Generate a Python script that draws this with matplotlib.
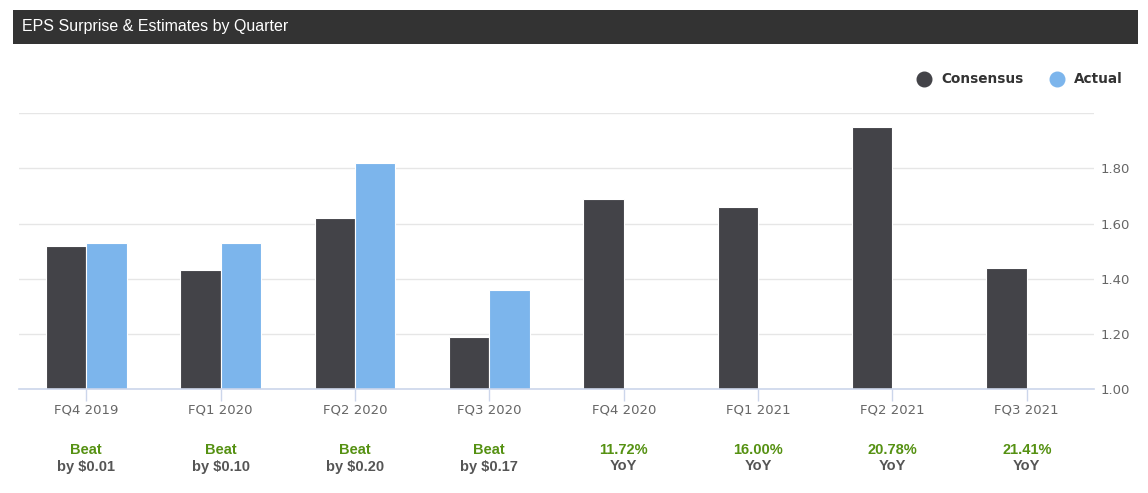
import matplotlib.pyplot as plt
import numpy as np
from matplotlib.lines import Line2D
from matplotlib.patches import Rectangle
from matplotlib.transforms import blended_transform_factory

quarters = ['FQ4 2019', 'FQ1 2020', 'FQ2 2020', 'FQ3 2020',
            'FQ4 2020', 'FQ1 2021', 'FQ2 2021', 'FQ3 2021']
consensus = [1.52, 1.43, 1.62, 1.19, 1.69, 1.66, 1.95, 1.44]
actual = [1.53, 1.53, 1.82, 1.36]  # reported quarters only
note_top = ['Beat', 'Beat', 'Beat', 'Beat', '11.72%', '16.00%', '20.78%', '21.41%']
note_bottom = ['by $0.01', 'by $0.10', 'by $0.20', 'by $0.17', 'YoY', 'YoY', 'YoY', 'YoY']
y_ticks = [1.0, 1.2, 1.4, 1.6, 1.8, 2.0]

CONS_COLOR = '#434348'
ACT_COLOR = '#7cb5ec'
AXIS_COLOR = '#ccd6eb'
GRID_COLOR = '#e6e6e6'
LABEL_COLOR = '#666666'
GREEN = '#559112'

W, H = 1148, 493
fig = plt.figure(figsize=(W / 100, H / 100), dpi=100)
fig.patch.set_facecolor('white')

# header bar
fig.add_artist(Rectangle((13 / W, 1 - 43.7 / H), (1138 - 13) / W, 33.7 / H,
                         transform=fig.transFigure, facecolor='#333333', edgecolor='none'))
fig.text(22 / W, 1 - 27 / H, 'EPS Surprise & Estimates by Quarter', color='white',
         fontsize=11.5, family='Liberation Sans', va='center', ha='left')

ax = fig.add_axes([19 / W, 1 - 389 / H, (1094 - 19) / W, (389 - 113.3) / H])

x = np.arange(len(quarters))
bw = 0.3
ax.bar(x - bw / 2, consensus, bw, bottom=0, color=CONS_COLOR, edgecolor='white',
       linewidth=0.8, zorder=3)
ax.bar(x[:len(actual)] + bw / 2, actual, bw, color=ACT_COLOR, edgecolor='white',
       linewidth=0.8, zorder=3)

ax.set_xlim(-0.5, len(quarters) - 0.5)
ax.set_ylim(1.0, 2.0)

ax.set_xticks(x)
ax.set_xticklabels(quarters, color=LABEL_COLOR, fontsize=9.5, family='DejaVu Sans')
ax.tick_params(axis='x', direction='out', length=8.5, width=1, color=AXIS_COLOR, pad=2)

ax.yaxis.tick_right()
ax.set_yticks(y_ticks)
ax.set_yticklabels(['%.2f' % v if v < 2.0 else '' for v in y_ticks],
                   color=LABEL_COLOR, fontsize=9.5, family='DejaVu Sans')
ax.tick_params(axis='y', length=0, pad=5)
ax.grid(axis='y', color=GRID_COLOR, linewidth=1, zorder=0)
ax.set_axisbelow(True)

for side in ['left', 'right', 'top']:
    ax.spines[side].set_visible(False)
ax.spines['bottom'].set_color(AXIS_COLOR)
ax.spines['bottom'].set_linewidth(1.2)
ax.spines['bottom'].set_zorder(4)

# notes under each quarter
trans = blended_transform_factory(ax.transData, fig.transFigure)
for i in range(len(quarters)):
    ax.text(i, 1 - 450 / H, note_top[i], transform=trans, ha='center', va='center',
            color=GREEN, fontsize=10.5, fontweight='bold', family='Liberation Sans')
    ax.text(i, 1 - 466.5 / H, note_bottom[i], transform=trans, ha='center', va='center',
            color='#555555', fontsize=10.5, fontweight='bold', family='Liberation Sans')

# legend, drawn by hand to sit where the reference has it
for cx, tx, label, col in [(924, 941, 'Consensus', CONS_COLOR), (1057, 1074, 'Actual', ACT_COLOR)]:
    fig.add_artist(Line2D([cx / W], [1 - 79.3 / H], marker='o', markersize=10.5,
                          color=col, linestyle='None', transform=fig.transFigure))
    fig.text(tx / W, 1 - 79.3 / H, label, color='#333333', fontsize=9.8,
             fontweight='bold', family='DejaVu Sans', va='center', ha='left')

fig.savefig('out.png', dpi=100)
